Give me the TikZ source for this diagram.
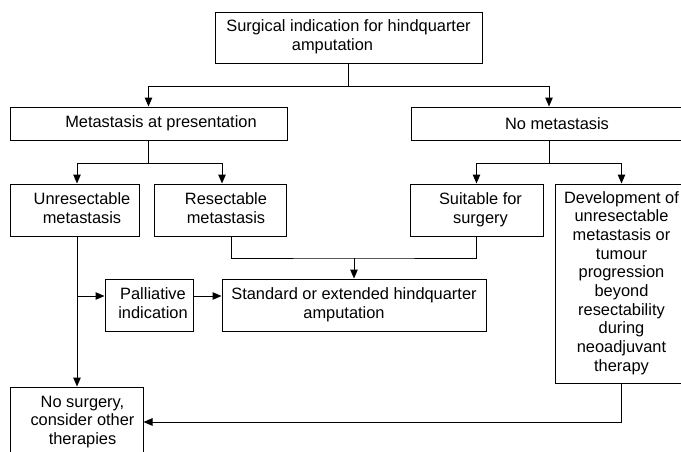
\documentclass[tikz,border=0pt]{standalone}
\usepackage{fontspec}
\setmainfont{Liberation Sans}
\usetikzlibrary{arrows.meta}
\newcommand{\shtxt}[2]{\hspace*{#1pt}\begin{tabular}{@{}c@{}}#2\end{tabular}}
\begin{document}
\begin{tikzpicture}[x=1pt,y=-1pt,
  box/.style={draw, line width=1pt, inner sep=0pt, font=\fontsize{16.4}{18.7}\selectfont},
  arr/.style={-{Triangle[length=9pt,width=7.5pt]}},
  line width=1pt]
\useasboundingbox (0,0) rectangle (681,451);
\clip (0,0) rectangle (681,451);
\node[box, minimum width=267, minimum height=51] (top) at (348.5,37.5)
  {\begin{tabular}{@{}c@{}}Surgical indication for hindquarter\\amputation\hspace*{32pt}\end{tabular}};
\node[box, minimum width=277, minimum height=33] (meta) at (148.5,123.5) {\shtxt{25}{Metastasis at presentation}};
\node[box, minimum width=292, minimum height=33] (nometa) at (557,123.5) {No metastasis};
\node[box, minimum width=129, minimum height=52] (unres) at (74.5,210) {\shtxt{15}{Unresectable\\metastasis}};
\node[box, minimum width=132, minimum height=52] (resect) at (220,210) {\shtxt{12}{Resectable\\metastasis}};
\node[box, minimum width=133, minimum height=52] (suit) at (476.5,210) {\shtxt{8}{Suitable for\\surgery}};
\node[box, minimum width=133, minimum height=199] (dev) at (621.5,283.5)
  {\shtxt{0}{Development of\\unresectable\\metastasis or\\tumour\\progression\\beyond\\resectability\\during\\neoadjuvant\\therapy}};
\node[box, minimum width=88, minimum height=52] (pall) at (149,305) {\shtxt{8}{Palliative\\indication}};
\node[box, minimum width=264, minimum height=52] (std) at (354,305)
  {\begin{tabular}{@{}c@{}}Standard or extended hindquarter\\amputation\hspace*{20pt}\end{tabular}};
\node[box, minimum width=133, minimum height=70] (nosurg) at (76.5,422) {\shtxt{12}{No surgery,\\consider other\\therapies}};

\coordinate (j1) at (348.5,86);
\draw (top.south) -- (j1);
\draw[arr] (j1) -| (meta.north);
\draw[arr] (j1) -| ([xshift=-8pt]nometa.north);

\coordinate (j2) at (148.5,163);
\draw (meta.south) -- (j2);
\draw[arr] (j2) -| ([xshift=2.5pt]unres.north);
\draw[arr] (j2) -| ([xshift=2pt]resect.north);

\coordinate (j3) at (549,163);
\draw ([xshift=-8pt]nometa.south) -- (j3);
\draw[arr] (j3) -| (suit.north);
\draw[arr] (j3) -| (dev.north);

\coordinate (j4) at (354,258);
\draw ([xshift=11pt]resect.south) |- (j4) -| (suit.south);
\draw[arr] (j4) -- (std.north);

\draw[arr] ([xshift=2.5pt]unres.south) -- ([xshift=0.5pt]nosurg.north);
\coordinate (j5) at (77,296);
\draw[arr] (j5) -- (j5 -| pall.west);
\draw[arr] (j5 -| pall.east) -- (j5 -| std.west);
\draw[arr] (dev.south) |- (nosurg.east);
\end{tikzpicture}
\end{document}
